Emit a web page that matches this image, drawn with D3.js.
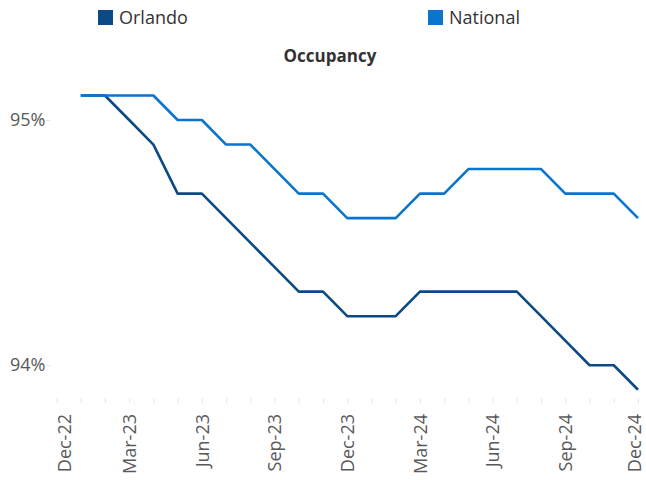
<!DOCTYPE html>
<html>
<head>
<meta charset="utf-8">
<script src="https://cdn.jsdelivr.net/npm/d3@7"></script>
<style>
    body { margin: 0; background: #fff; }
    svg { font-family: "Open Sans", sans-serif; }
</style>
</head>
<body>
<div id="chart"></div>
<script>
// months on the axis (Dec-22 .. Dec-24), data starts Jan-23
const months = ["Dec-22","Jan-23","Feb-23","Mar-23","Apr-23","May-23","Jun-23","Jul-23","Aug-23","Sep-23","Oct-23","Nov-23",
    "Dec-23","Jan-24","Feb-24","Mar-24","Apr-24","May-24","Jun-24","Jul-24","Aug-24","Sep-24","Oct-24","Nov-24","Dec-24"];
const dataMonths = months.slice(1);
const orlando = [95.1,95.1,95.0,94.9,94.7,94.7,94.6,94.5,94.4,94.3,94.3,94.2,
    94.2,94.2,94.3,94.3,94.3,94.3,94.3,94.2,94.1,94.0,94.0,93.9];
const national = [95.1,95.1,95.1,95.1,95.0,95.0,94.9,94.9,94.8,94.7,94.7,94.6,
    94.6,94.6,94.7,94.7,94.8,94.8,94.8,94.8,94.7,94.7,94.7,94.6];
const yTicks = [94, 95];
const labelMonths = months.filter((d, i) => i % 3 === 0);

const series = [
    {name: "Orlando", values: orlando, color: "#0b4a85"},
    {name: "National", values: national, color: "#0b74cf"}
];

const width = 646, height = 480;
const margin = {top: 71, right: 8, bottom: 78, left: 56.5};

const svg = d3.select("#chart").append("svg")
    .attr("width", width)
    .attr("height", height);

const x = d3.scalePoint()
    .domain(months)
    .range([margin.left, width - margin.right]);

const y = d3.scaleLinear()
    .domain([93.85, 95.2])
    .range([height - margin.bottom, margin.top]);

// y axis
const yAxis = svg.append("g")
    .attr("transform", `translate(${margin.left - 6},0)`)
    .call(d3.axisLeft(y).tickValues(yTicks).tickSize(4).tickFormat(d => d + "%"));
yAxis.select(".domain").remove();
yAxis.selectAll("line").attr("stroke", "#e6e6e6");
yAxis.selectAll("text")
    .attr("x", -5)
    .attr("fill", "#595959")
    .attr("font-size", 18)
    .attr("font-family", "Open Sans, sans-serif");

// x axis
const xAxis = svg.append("g")
    .attr("transform", `translate(0,${height - margin.bottom - 4})`)
    .call(d3.axisBottom(x).tickSize(5).tickFormat(d => labelMonths.includes(d) ? d : ""));
xAxis.select(".domain").remove();
xAxis.selectAll("line").attr("stroke", "#e6e6e6");
xAxis.selectAll("text")
    .attr("transform", "rotate(-90)")
    .attr("text-anchor", "end")
    .attr("x", -16)
    .attr("y", 0)
    .attr("dy", "0.35em")
    .attr("dx", 0)
    .attr("fill", "#595959")
    .attr("font-size", 18)
    .attr("font-family", "Open Sans, sans-serif");
// end labels are nudged inwards in the original
xAxis.selectAll("text").filter(d => d === months[0]).attr("y", 8);
xAxis.selectAll("text").filter(d => d === months[months.length - 1]).attr("y", -4);

// lines
const line = d3.line()
    .x((d, i) => x(dataMonths[i]))
    .y(d => y(d));

svg.selectAll(".series")
    .data(series)
    .enter()
    .append("path")
    .attr("class", "series")
    .attr("fill", "none")
    .attr("stroke", d => d.color)
    .attr("stroke-width", 2.6)
    .attr("stroke-linejoin", "round")
    .attr("d", d => line(d.values));

// title
svg.append("text")
    .attr("x", 330)
    .attr("y", 62)
    .attr("text-anchor", "middle")
    .attr("font-size", 17)
    .attr("font-weight", "bold")
    .attr("fill", "#333")
    .text("Occupancy");

// legend
const legend = svg.selectAll(".legend")
    .data(series)
    .enter()
    .append("g")
    .attr("class", "legend")
    .attr("transform", (d, i) => `translate(${i === 0 ? 98 : 428},10)`);

legend.append("rect")
    .attr("width", 15)
    .attr("height", 15)
    .attr("fill", d => d.color);

legend.append("text")
    .attr("x", 21)
    .attr("y", 14)
    .attr("font-size", 18)
    .attr("fill", "#333")
    .text(d => d.name);
</script>
</body>
</html>
